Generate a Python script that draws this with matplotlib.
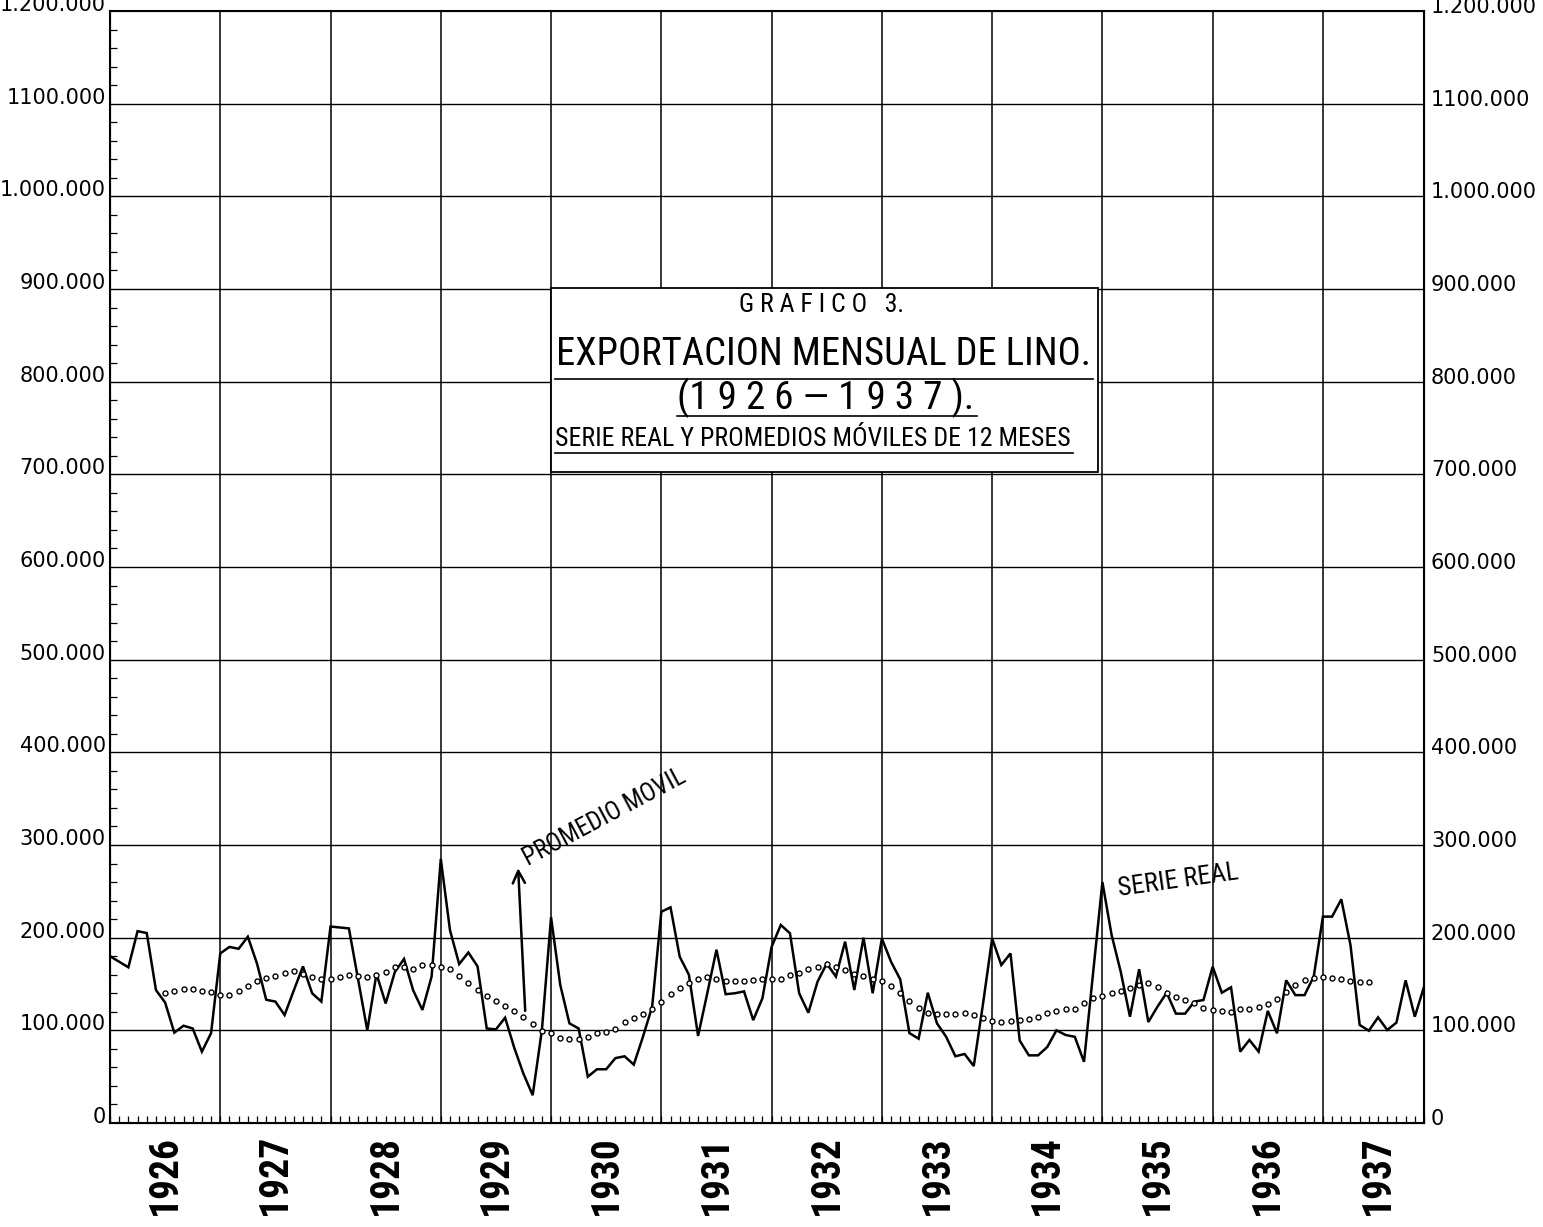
import matplotlib
matplotlib.use("Agg")
import matplotlib.pyplot as plt
import matplotlib.transforms as mtransforms
from matplotlib import font_manager
from matplotlib.patches import Rectangle
from matplotlib.ticker import MultipleLocator

# ---------------- data (thousands of units) ----------------
years = [1926, 1927, 1928, 1929, 1930, 1931, 1932, 1933, 1934, 1935, 1936, 1937]

serie_real = [
    180, 174, 168, 207, 205, 143.5, 130, 97.5, 105, 102, 77, 97,          # 1926
    183, 190, 188, 201, 172, 133, 131, 116.5, 143, 169, 140, 131,         # 1927
    212, 211, 210, 155, 100, 161, 129, 163, 177, 143, 122, 158,           # 1928
    285, 208, 171.5, 184, 169, 102, 101, 113.6, 81, 53, 30, 100,          # 1929
    222, 149, 107.5, 102, 50, 58, 58, 70, 72, 63, 93, 125.5,              # 1930
    228, 232.7, 179.5, 160, 94, 140, 187, 139, 140, 142, 111, 134.5,      # 1931
    190, 213.7, 204.7, 140, 119, 152.5, 172, 158, 195.7, 143.5, 200, 140, # 1932
    199, 174, 155, 97, 91, 140.6, 107.5, 93, 72, 74.5, 61.5, 128,         # 1933
    199, 170.5, 183, 89, 73, 73, 82, 100, 95, 93, 66, 163,                # 1934
    260, 203, 163, 114.7, 166, 109, 125.6, 140.6, 118, 118, 131, 132.7,   # 1935
    168.7, 140.6, 146.4, 77, 89.6, 77, 121, 96.8, 154, 138, 138, 158,     # 1936
    222.7, 222.7, 241.4, 192, 105.8, 99.6, 114, 100.4, 108.3, 154, 114.7, 147,  # 1937
]

ma_start = 6
promedio_movil = [
    140.6, 142.4, 144.2, 144.2, 142.4, 141,
    138, 138, 142.8, 148, 153.6, 157, 159, 161.5, 164, 161, 158, 155,
    155.8, 158, 159.7, 159, 158, 159.7, 163, 168.7, 168.7, 166, 170, 170,
    168, 166, 159, 150.7, 144, 137.4, 131.7, 126.6, 121, 114.7, 106.8, 99.6,
    96.8, 92, 90.6, 90.3, 92.4, 97.5, 98.2, 101, 108.6, 113.7, 117.3, 122.7,
    131, 139, 145.3, 150.7, 155.4, 158, 155.8, 153.6, 153.6, 153.6, 154.3, 155.8,
    155.8, 155.8, 159.7, 162, 165.8, 168.7, 171.6, 168.7, 165, 160.8, 158.6, 155,
    153, 148, 140.6, 131.7, 123.7, 118.3, 117.6, 117.6, 117.6, 119, 116.5, 113,
    110, 109.4, 110, 111, 112, 114, 119, 121, 122.7, 123.4, 129, 134.5,
    137, 140, 142.8, 145.3, 149, 150.7, 146.4, 140.6, 136.3, 132.7, 129, 123.7,
    122, 121, 120, 122.7, 123, 124.8, 128.4, 133.5, 141.7, 149, 154.3, 157,
    158, 156, 155, 153.6, 152.5, 151.8,
]

ytick_vals = [0, 100, 200, 300, 400, 500, 600, 700, 800, 900, 1000, 1100, 1200]
ytick_left = ["0", "100.000", "200.000", "300.000", "400.000", "500.000", "600.000",
              "700.000", "800.000", "900.000", "1.000.000", "1100.000", "1.200.000"]
ytick_right = ["0", "100.000", "200.000", "300.000", "400.000", "500.000", "600.000",
               "700.000", "800.000", "900.000", "1.000.000", "1100.000", "1.200.000"]

# ---------------- fonts ----------------
avail = {f.name for f in font_manager.fontManager.ttflist}
narrow = "DejaVu Sans"
for cand in ["DejaVu Sans Condensed", "Liberation Sans Narrow", "Roboto Condensed",
             "Open Sans Condensed", "Noto Sans"]:
    if cand in avail:
        narrow = cand
        break
plt.rcParams["font.family"] = ["DejaVu Sans"]

# ---------------- figure ----------------
W, H = 1543, 1227
fig = plt.figure(figsize=(W / 100, H / 100), dpi=100)
L, R, T, B = 110, 1424, 11, 1123
ax = fig.add_axes([L / W, 1 - B / H, (R - L) / W, (B - T) / H])

n = len(serie_real)
xs = list(range(n))
ax.plot(xs, serie_real, color="black", lw=1.8, zorder=3, solid_joinstyle="miter")
xm = list(range(ma_start, ma_start + len(promedio_movil)))
ax.plot(xm, promedio_movil, linestyle="none", marker="o", markersize=3.6,
        markerfacecolor="white", markeredgecolor="black", markeredgewidth=1.0, zorder=4)

ax.set_xlim(0, n - 1)
ax.set_ylim(0, 1200)

# grid
for k in range(1, len(years)):
    ax.axvline(12 * k, color="black", lw=1.1, zorder=1)
for v in ytick_vals[1:-1]:
    ax.axhline(v, color="black", lw=1.0, zorder=1)

for s in ax.spines.values():
    s.set_linewidth(1.5)

# ticks
ax.set_xticks([])
ax.xaxis.set_minor_locator(MultipleLocator(1))
ax.tick_params(axis="x", which="minor", direction="in", length=5, width=0.9, top=False)
ax.set_yticks(ytick_vals)
ax.set_yticklabels(ytick_left)
ax.yaxis.set_minor_locator(MultipleLocator(20))
ax.tick_params(axis="y", which="major", length=0, pad=3, labelsize=15)
ax.tick_params(axis="y", which="minor", direction="in", length=5, width=0.9)
off = mtransforms.ScaledTranslation(0, 8 / 100, fig.dpi_scale_trans)
for lab in ax.get_yticklabels():
    lab.set_transform(lab.get_transform() + off)

ax2 = ax.twinx()
ax2.set_ylim(0, 1200)
ax2.set_yticks(ytick_vals)
ax2.set_yticklabels(ytick_right)
ax2.tick_params(axis="y", which="major", length=0, pad=5, labelsize=15)
off2 = mtransforms.ScaledTranslation(0, 6 / 100, fig.dpi_scale_trans)
for lab in ax2.get_yticklabels():
    lab.set_transform(lab.get_transform() + off2)

renderer = fig.canvas.get_renderer()


def fit(t, target, vertical=False):
    bb = t.get_window_extent(renderer)
    size = bb.height if vertical else bb.width
    t.set_fontsize(t.get_fontsize() * target / size)


# year labels
trans = mtransforms.blended_transform_factory(ax.transData, ax.transAxes)
for k, yr in enumerate(years):
    t = ax.text(12 * k + 6, -0.011, str(yr), transform=trans, rotation=90,
                ha="center", va="top", fontsize=22, fontfamily=narrow,
                fontweight="bold")
    fit(t, 80, vertical=True)


# title box
def axx(px):
    return (px - L) / (R - L)


def axy(py):
    return (B - py) / (B - T)


ax.add_patch(Rectangle((axx(551), axy(472)), axx(1098) - axx(551), axy(288) - axy(472),
                       transform=ax.transAxes, facecolor="white", edgecolor="black",
                       lw=1.3, zorder=5))
t1 = ax.text(axx(822), axy(305), "G R A F I C O   3.", transform=ax.transAxes,
             ha="center", va="center", fontsize=15, fontfamily=narrow, zorder=6)
fit(t1, 165)
t2 = ax.text(axx(823), axy(354), "EXPORTACION MENSUAL DE LINO.", transform=ax.transAxes,
             ha="center", va="center", fontsize=30, fontfamily=narrow, zorder=6)
fit(t2, 535)
t3 = ax.text(axx(826), axy(398), "(1 9 2 6 — 1 9 3 7 ).", transform=ax.transAxes,
             ha="center", va="center", fontsize=25, fontfamily=narrow, zorder=6)
fit(t3, 298)
t4 = ax.text(axx(813), axy(439), "SERIE REAL Y PROMEDIOS MÓVILES DE 12 MESES",
             transform=ax.transAxes, ha="center", va="center", fontsize=17,
             fontfamily=narrow, zorder=6)
fit(t4, 515)
for (x0, x1, yy) in [(555, 1093, 379), (677, 977, 416), (555, 1073, 453)]:
    ax.plot([axx(x0), axx(x1)], [axy(yy), axy(yy)], transform=ax.transAxes,
            color="black", lw=1.2, zorder=6)

# annotations
ax.annotate("", xy=(44.4, 278), xytext=(45.2, 118),
            arrowprops=dict(arrowstyle="->", color="black", lw=1.8,
                            mutation_scale=22), zorder=6)
ax.text(53.8, 330, "PROMEDIO MOVIL", rotation=28, ha="center", va="center",
        fontsize=18, fontfamily=narrow, zorder=6)
ax.text(116.3, 262, "SERIE REAL", rotation=8, ha="center", va="center",
        fontsize=19, fontfamily=narrow, zorder=6)

fig.savefig("out.png", dpi=100)
